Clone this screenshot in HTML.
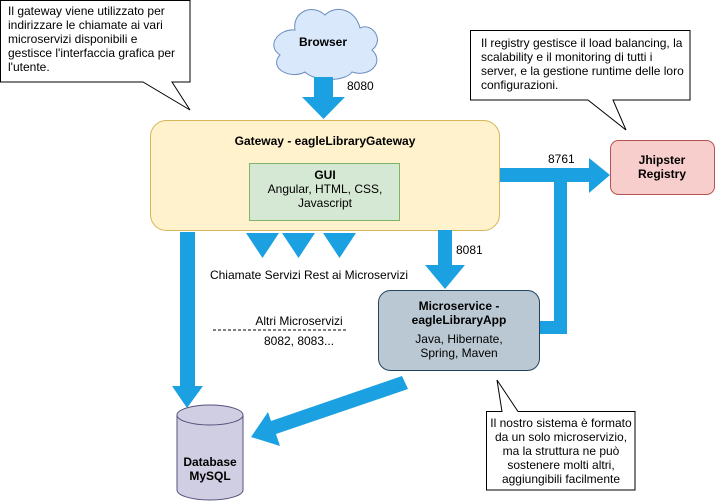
<!DOCTYPE html>
<html><head><meta charset="utf-8"><style>
html,body{margin:0;padding:0;background:#fff;}
svg{display:block;font-family:"Liberation Sans",Arial,sans-serif;}
</style></head><body>
<svg width="716" height="502" viewBox="0 0 716 502" xmlns="http://www.w3.org/2000/svg">
<path d="M0.5,0.5 H190 V82 H172 L190,110 L143,82 H0.5 Z" fill="#fff" stroke="#000" stroke-width="1"/>
<g font-size="12" fill="#000">
<text x="8" y="15">Il gateway viene utilizzato per</text>
<text x="8" y="29">indirizzare le chiamate ai vari</text>
<text x="8" y="43">microservizi disponibili e</text>
<text x="8" y="57">gestisce l'interfaccia grafica per</text>
<text x="8" y="71">l'utente.</text>
</g>
<path d="M470.5,30.5 H690 V100 H613 L626,130 L588,100 H470.5 Z" fill="#fff" stroke="#000"/>
<g font-size="12">
<text x="481" y="47">Il registry gestisce il load balancing, la</text>
<text x="481" y="61">scalability e il monitoring di tutti i</text>
<text x="481" y="75">server, e la gestione runtime delle loro</text>
<text x="481" y="89">configurazioni.</text>
</g>
<path d="M295,30 C280,28 265,45 280,55 C268,68 290,80 305,72 C315,82 345,82 352,72 C370,78 385,62 372,50 C385,40 372,22 360,28 C355,8 335,5 325,15 C312,3 292,12 295,30 Z" fill="#dae8fc" stroke="#6c8ebf"/>
<text x="323" y="46" font-size="12" font-weight="bold" text-anchor="middle">Browser</text>
<path d="M314,77 H333 V97 H345 L323.5,119 L302,97 H314 Z" fill="#1ba1e2"/>
<text x="347" y="90" font-size="12">8080</text>
<rect x="150.5" y="120.5" width="349" height="110" rx="16" fill="#fff2cc" stroke="#d6b656"/>
<text x="325" y="145" font-size="12" font-weight="bold" text-anchor="middle">Gateway - eagleLibraryGateway</text>
<rect x="249.5" y="163.5" width="150" height="57" fill="#d5e8d4" stroke="#82b366"/>
<text x="325" y="179" font-size="12" font-weight="bold" text-anchor="middle">GUI</text>
<text x="325" y="193" font-size="12" text-anchor="middle">Angular, HTML, CSS,</text>
<text x="325" y="207" font-size="12" text-anchor="middle">Javascript</text>
<path d="M500,168 H589 V158 L610,175 L589,193 V182 H500 Z" fill="#1ba1e2"/>
<text x="548" y="163" font-size="12">8761</text>
<rect x="554" y="178" width="13" height="156" fill="#1ba1e2"/>
<rect x="540" y="321" width="27" height="13" fill="#1ba1e2"/>
<rect x="610.5" y="140.5" width="104" height="54" rx="8" fill="#f8cecc" stroke="#b85450"/>
<text x="662" y="164" font-size="12" font-weight="bold" text-anchor="middle">Jhipster</text>
<text x="662" y="178" font-size="12" font-weight="bold" text-anchor="middle">Registry</text>
<path d="M246,233 H279 L262.5,258 Z" fill="#1ba1e2"/>
<path d="M282,233 H315 L298.5,258 Z" fill="#1ba1e2"/>
<path d="M323,233 H356 L339.5,258 Z" fill="#1ba1e2"/>
<text x="309" y="279" font-size="12" text-anchor="middle">Chiamate Servizi Rest ai Microservizi</text>
<path d="M438,230 H452 V265 H465 L445,289 L425,265 H438 Z" fill="#1ba1e2"/>
<text x="456" y="254" font-size="12">8081</text>
<rect x="378.5" y="290.5" width="161" height="80" rx="12" fill="#bac8d3" stroke="#23445d"/>
<text x="459" y="310" font-size="12" font-weight="bold" text-anchor="middle">Microservice -</text>
<text x="459" y="324" font-size="12" font-weight="bold" text-anchor="middle">eagleLibraryApp</text>
<text x="459" y="343" font-size="12" text-anchor="middle">Java, Hibernate,</text>
<text x="459" y="357" font-size="12" text-anchor="middle">Spring, Maven</text>
<text x="299" y="325" font-size="12" text-anchor="middle">Altri Microservizi</text>
<line x1="213" y1="330" x2="346" y2="330" stroke="#000" stroke-dasharray="3,2" stroke-width="1"/>
<text x="299" y="345" font-size="12" text-anchor="middle">8082, 8083...</text>
<path d="M180,232 H195 V386 H203 L187,408 L172,386 H180 Z" fill="#1ba1e2"/>
<path d="M402,376 L408,389 L276,434 L280,446 L251,437 L268,412 L271,421 Z" fill="#1ba1e2"/>
<path d="M177,415 A33,10 0 0 1 243,415 V490 A33,10 0 0 1 177,490 Z" fill="#d0cee2" stroke="#56517e"/>
<path d="M177,415 A33,10 0 0 0 243,415" fill="none" stroke="#56517e"/>
<text x="210" y="466" font-size="12" font-weight="bold" text-anchor="middle">Database</text>
<text x="210" y="480" font-size="12" font-weight="bold" text-anchor="middle">MySQL</text>
<path d="M486.5,411.5 H502 L497,380 L518,411.5 H635 V490 H486.5 Z" fill="#fff" stroke="#000"/>
<g font-size="12" text-anchor="middle">
<text x="561" y="427">Il nostro sistema è formato</text>
<text x="561" y="441">da un solo microservizio,</text>
<text x="561" y="455">ma la struttura ne può</text>
<text x="561" y="469">sostenere molti altri,</text>
<text x="561" y="483">aggiungibili facilmente</text>
</g>
</svg>
</body></html>
